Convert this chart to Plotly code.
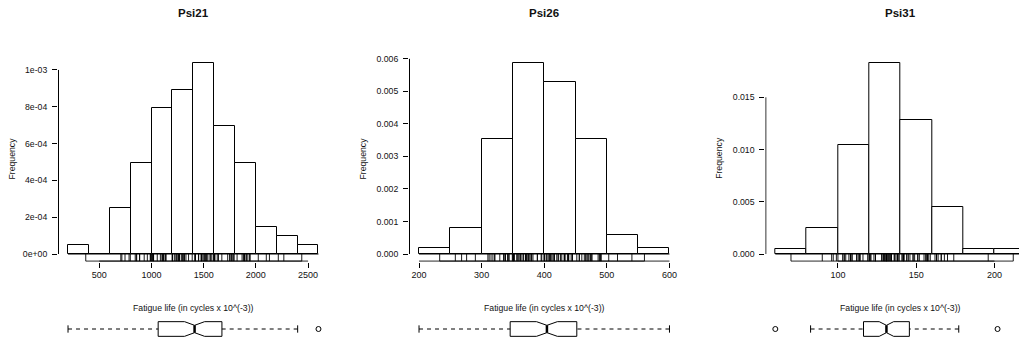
import numpy as np
import plotly.graph_objects as go

# ---------------- data ----------------
titles = ["Psi21", "Psi26", "Psi31"]
x_label = "Fatigue life (in cycles x 10^(-3))"
y_label = "Frequency"

psi21 = [370, 706, 716, 746, 785, 797, 844, 855, 858, 886, 886, 930, 960, 988, 990, 1000,
         1010, 1016, 1018, 1020, 1055, 1085, 1102, 1102, 1108, 1115, 1120, 1134, 1140, 1199,
         1200, 1200, 1203, 1222, 1235, 1238, 1252, 1258, 1262, 1269, 1270, 1290, 1293, 1300,
         1310, 1313, 1315, 1330, 1355, 1390, 1416, 1419, 1420, 1420, 1450, 1452, 1475, 1478,
         1481, 1485, 1502, 1505, 1513, 1522, 1522, 1530, 1540, 1560, 1567, 1578, 1594, 1602,
         1604, 1608, 1630, 1642, 1674, 1730, 1750, 1750, 1763, 1768, 1781, 1782, 1792, 1820,
         1868, 1881, 1890, 1893, 1895, 1910, 1923, 1940, 1945, 2023, 2100, 2130, 2215, 2268, 2440]

psi26 = [233, 258, 268, 276, 290, 310, 312, 315, 318, 321, 321, 329, 335, 336, 338, 338,
         342, 342, 342, 344, 349, 350, 350, 351, 351, 352, 352, 356, 358, 358, 360, 362, 363,
         366, 367, 370, 370, 372, 372, 374, 375, 376, 379, 379, 380, 382, 389, 389, 395, 396,
         400, 400, 400, 403, 404, 406, 408, 408, 410, 412, 414, 416, 416, 416, 420, 422, 423,
         426, 428, 432, 432, 433, 433, 437, 438, 439, 439, 443, 445, 445, 452, 456, 456, 460,
         464, 466, 468, 470, 470, 473, 474, 476, 476, 486, 488, 489, 490, 491, 503, 517, 540, 560]

psi31 = [70, 90, 96, 97, 99, 100, 103, 104, 104, 105, 107, 108, 108, 108, 109, 109, 112, 112,
         113, 114, 114, 114, 116, 119, 120, 120, 120, 121, 121, 123, 124, 124, 124, 124, 124,
         128, 128, 129, 129, 130, 130, 130, 131, 131, 131, 131, 131, 132, 132, 132, 133, 134,
         134, 134, 134, 134, 136, 136, 137, 138, 138, 138, 139, 139, 141, 141, 142, 142, 142,
         142, 142, 142, 144, 144, 145, 146, 148, 148, 149, 151, 151, 152, 155, 156, 157, 157,
         157, 157, 158, 159, 162, 163, 163, 164, 166, 166, 168, 170, 174, 196, 212]

breaks21 = [200, 400, 600, 800, 1000, 1200, 1400, 1600, 1800, 2000, 2200, 2400, 2600]
breaks26 = [200, 250, 300, 350, 400, 450, 500, 550, 600]
breaks31 = [60, 80, 100, 120, 140, 160, 180, 200, 220]

xticks21 = [500, 1000, 1500, 2000, 2500]
xticks26 = [200, 300, 400, 500, 600]
xticks31 = [100, 150, 200]

yticks21 = [0, 0.0002, 0.0004, 0.0006, 0.0008, 0.001]
ytext21 = ["0e+00", "2e-04", "4e-04", "6e-04", "8e-04", "1e-03"]
yticks26 = [0, 0.001, 0.002, 0.003, 0.004, 0.005, 0.006]
ytext26 = ["0.000", "0.001", "0.002", "0.003", "0.004", "0.005", "0.006"]
yticks31 = [0, 0.005, 0.010, 0.015]
ytext31 = ["0.000", "0.005", "0.010", "0.015"]

# ---------------- layout constants (pixels) ----------------
W, H = 1019, 340
PANEL_LEFT = [58.0, 409.0, 765.3]
PANEL_W = 270.5
HIST_TOP, HIST_BOT = 55.0, 261.65
BOX_TOP, BOX_BOT = 319.1, 338.9
FONT = "Liberation Sans, Arial, Helvetica, sans-serif"
TXT = "#111111"


def fivenum(x):
    x = np.sort(np.asarray(x, dtype=float))
    n = len(x)
    n4 = np.floor((n + 3) / 2) / 2
    d = np.array([1, n4, (n + 1) / 2, n + 1 - n4, n]) - 1
    return 0.5 * (x[np.floor(d).astype(int)] + x[np.ceil(d).astype(int)])


def r_hist_density(x, br):
    x = np.asarray(x, dtype=float)
    br = np.asarray(br, dtype=float)
    counts = []
    for k in range(len(br) - 1):
        lo, hi = br[k], br[k + 1]
        if k == 0:
            c = np.sum((x >= lo) & (x <= hi))
        else:
            c = np.sum((x > lo) & (x <= hi))
        counts.append(c)
    counts = np.array(counts, dtype=float)
    return counts / (len(x) * np.diff(br))


def axis_fit(left_px, r0, r1):
    """Return domain and range, clipping at the right edge of the page."""
    right_px = left_px + PANEL_W
    if right_px > W:
        r1 = r0 + (W - left_px) / PANEL_W * (r1 - r0)
        right_px = W
    return [left_px / W, right_px / W], [r0, r1]


fig = go.Figure()
layout = dict(width=W, height=H, margin=dict(l=0, r=0, t=0, b=0),
              paper_bgcolor="white", plot_bgcolor="white", showlegend=False,
              font=dict(family=FONT, color=TXT, size=9))
annotations = []

panels = [
    (titles[0], psi21, breaks21, xticks21, yticks21, ytext21),
    (titles[1], psi26, breaks26, xticks26, yticks26, ytext26),
    (titles[2], psi31, breaks31, xticks31, yticks31, ytext31),
]

line_black = dict(color="black", width=1)

for i, (title, data, br, xt, yt, ytxt) in enumerate(panels):
    left = PANEL_LEFT[i]
    hx, hy = f"x{i + 1}", f"y{i + 1}"
    bx, by = f"x{i + 4}", f"y{i + 4}"
    data = np.asarray(data, dtype=float)

    # --- histogram axes ---
    span = br[-1] - br[0]
    xdom, xrng = axis_fit(left, br[0] - 0.04 * span, br[-1] + 0.04 * span)
    dens = r_hist_density(data, br)
    ymax = dens.max()
    yrng = [-0.04 * ymax, 1.04 * ymax]
    ydom = [(H - HIST_BOT) / H, (H - HIST_TOP) / H]
    px_per_y = (HIST_BOT - HIST_TOP) / (yrng[1] - yrng[0])
    px_per_x = PANEL_W / ((br[-1] - br[0]) * 1.08)
    y_eps = 0.5 / px_per_y
    x_eps = 0.5 / px_per_x

    layout[f"xaxis{i + 1}"] = dict(domain=xdom, range=xrng, anchor=hy, tickvals=xt,
                                   ticks="outside", ticklen=5, tickcolor="black",
                                   showgrid=False, zeroline=False, showline=False,
                                   tickfont=dict(size=9, color=TXT, family=FONT))
    layout[f"yaxis{i + 1}"] = dict(domain=ydom, range=yrng, anchor=hx, tickvals=yt,
                                   ticktext=ytxt, ticks="outside", ticklen=5,
                                   tickcolor="black", showgrid=False, zeroline=False,
                                   showline=False, ticklabelstandoff=3,
                                   tickfont=dict(size=8.7, color=TXT, family=FONT))

    br_arr = np.asarray(br, dtype=float)
    centers = (br_arr[:-1] + br_arr[1:]) / 2
    widths = np.diff(br_arr)
    fig.add_trace(go.Bar(x=centers, y=dens, width=widths, xaxis=hx, yaxis=hy,
                         marker=dict(color="white", line=line_black), hoverinfo="skip"))
    # histogram baseline (shows zero-height bins as R does)
    fig.add_trace(go.Scatter(x=[br[0], br[-1]], y=[0, 0], mode="lines", line=line_black,
                             xaxis=hx, yaxis=hy, hoverinfo="skip"))
    # rug ticks
    ybot = yrng[0] + y_eps
    rx, ry = [], []
    for v in data:
        rx += [v, v, None]
        ry += [ybot, 0, None]
    fig.add_trace(go.Scatter(x=rx, y=ry, mode="lines", line=dict(color="black", width=0.9),
                             xaxis=hx, yaxis=hy, hoverinfo="skip"))
    # rug line + x axis line
    fig.add_trace(go.Scatter(x=[data.min(), data.max(), None, xt[0], xt[-1]],
                             y=[ybot, ybot, None, ybot, ybot], mode="lines",
                             line=line_black, xaxis=hx, yaxis=hy, hoverinfo="skip"))
    # y axis line (first to last tick)
    xl = xrng[0] + x_eps
    fig.add_trace(go.Scatter(x=[xl, xl], y=[yt[0], yt[-1]], mode="lines", line=line_black,
                             xaxis=hx, yaxis=hy, hoverinfo="skip"))

    # --- boxplot ---
    q = fivenum(data)
    iqr = q[3] - q[1]
    lo_f, hi_f = q[1] - 1.5 * iqr, q[3] + 1.5 * iqr
    inside = data[(data >= lo_f) & (data <= hi_f)]
    wlo, whi = inside.min(), inside.max()
    outl = data[(data < lo_f) | (data > hi_f)]
    notch = 1.58 * iqr / np.sqrt(len(data))
    c_lo, c_hi = q[2] - notch, q[2] + notch

    dspan = data.max() - data.min()
    bxdom, bxrng = axis_fit(left, data.min() - 0.04 * dspan, data.max() + 0.04 * dspan)
    layout[f"xaxis{i + 4}"] = dict(domain=bxdom, range=bxrng, anchor=by, visible=False)
    layout[f"yaxis{i + 4}"] = dict(domain=[(H - BOX_BOT) / H, (H - BOX_TOP) / H],
                                   range=[0.46, 1.54], anchor=bx, visible=False)
    w, wn, cap = 0.4, 0.2, 0.2
    fig.add_trace(go.Scatter(
        x=[q[1], q[1], c_lo, q[2], c_hi, q[3], q[3], c_hi, q[2], c_lo, q[1]],
        y=[1 - w, 1 + w, 1 + w, 1 + wn, 1 + w, 1 + w, 1 - w, 1 - w, 1 - wn, 1 - w, 1 - w],
        mode="lines", fill="toself", fillcolor="white", line=line_black,
        xaxis=bx, yaxis=by, hoverinfo="skip"))
    fig.add_trace(go.Scatter(x=[q[2], q[2]], y=[1 - wn, 1 + wn], mode="lines",
                             line=dict(color="black", width=2.5), xaxis=bx, yaxis=by,
                             hoverinfo="skip"))
    fig.add_trace(go.Scatter(x=[wlo, q[1], None, whi, q[3]], y=[1, 1, None, 1, 1],
                             mode="lines", line=dict(color="black", width=1, dash="4px,4px"),
                             xaxis=bx, yaxis=by, hoverinfo="skip"))
    fig.add_trace(go.Scatter(x=[wlo, wlo, None, whi, whi],
                             y=[1 - cap, 1 + cap, None, 1 - cap, 1 + cap],
                             mode="lines", line=line_black, xaxis=bx, yaxis=by,
                             hoverinfo="skip"))
    if len(outl):
        fig.add_trace(go.Scatter(x=outl, y=[1] * len(outl), mode="markers",
                                 marker=dict(symbol="circle-open", size=5,
                                             color="black", line=dict(width=1)),
                                 xaxis=bx, yaxis=by, hoverinfo="skip"))

    # --- text ---
    cx = (left + PANEL_W / 2) / W
    annotations.append(dict(text=f"<b>{title}</b>", x=cx, y=1 - 13.3 / H, xref="paper",
                            yref="paper", showarrow=False, xanchor="center",
                            yanchor="middle", font=dict(size=11.5, color=TXT, family=FONT)))
    annotations.append(dict(text=x_label, x=cx, y=1 - 307.7 / H, xref="paper", yref="paper",
                            showarrow=False, xanchor="center", yanchor="middle",
                            font=dict(size=8.7, color=TXT, family=FONT)))
    annotations.append(dict(text=y_label, x=(left - 45.8) / W,
                            y=1 - ((HIST_TOP + HIST_BOT) / 2) / H, xref="paper",
                            yref="paper", showarrow=False, textangle=-90,
                            xanchor="center", yanchor="middle",
                            font=dict(size=8.7, color=TXT, family=FONT)))

layout["annotations"] = annotations
layout["bargap"] = 0
fig.update_layout(**layout)
fig.write_html("out.html", config={"displayModeBar": False},
               post_script="document.body.style.margin='0';document.body.style.overflow='hidden';")
